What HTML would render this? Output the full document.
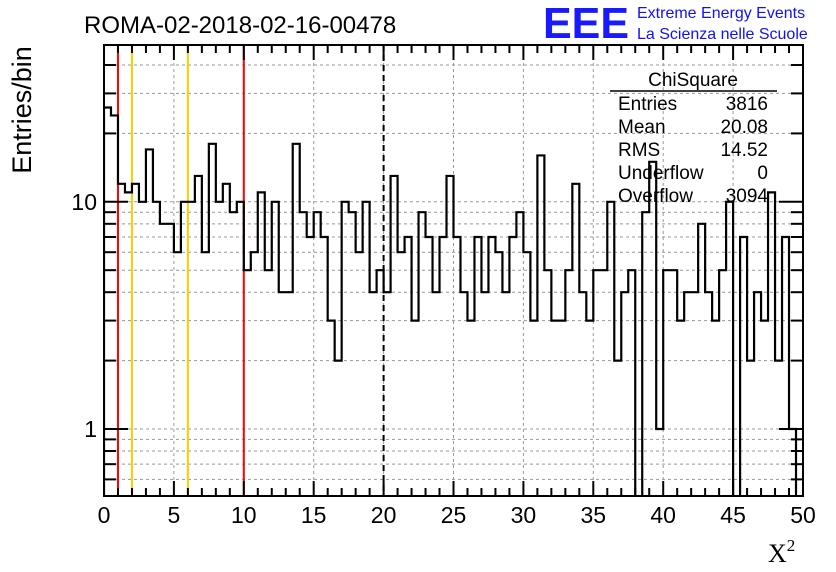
<!DOCTYPE html>
<html><head><meta charset="utf-8"><style>
body{margin:0;background:#fff;}
svg{display:block;font-family:"Liberation Sans",sans-serif;}
</style></head><body>
<svg id="chart" width="836" height="572" viewBox="0 0 836 572">
<defs><clipPath id="plotclip"><rect x="104" y="45" width="699" height="451"/></clipPath></defs>
<rect x="0" y="0" width="836" height="572" fill="#fff"/>
<g id="grid"></g>
<g id="marks"></g>
<g id="hist" clip-path="url(#plotclip)"></g>
<g id="axes"></g>
<text x="84" y="33" font-size="24">ROMA-02-2018-02-16-00478</text>
<text x="543" y="38" font-size="44" font-weight="bold" fill="#1a1aff" textLength="86" lengthAdjust="spacingAndGlyphs">EEE</text>
<text x="637" y="18" font-size="16" fill="#1010ff">Extreme Energy Events</text>
<text x="637" y="39" font-size="16" fill="#1010ff">La Scienza nelle Scuole</text>
<text transform="translate(31,110) rotate(-90)" font-size="27" text-anchor="middle">Entries/bin</text>
<text x="768" y="562" font-size="26" font-family="Liberation Serif,serif">X<tspan font-size="17" dy="-11">2</tspan></text>
<g id="stats" font-size="19">
<text x="693" y="86" text-anchor="middle">ChiSquare</text>
<line x1="610" y1="91" x2="777" y2="91" stroke="#000" stroke-width="1.5"/>
</g>
</svg>
<script>
const counts=[26,24,12,11,12,10,17,10,8,8,6,10,10,13,6,18,10,12,9,10,
5,6,11,5,10,4,4,18,9,7,9,7,3,2,10,9,6,10,4,5,
4,13,6,7,3,9,7,4,7,13,7,4,3,7,4,7,6,4,7,9,
6,3,16,5,3,3,5,12,4,3,5,5,10,2,4,5,0,9,15,1,
5,5,3,4,4,8,4,3,5,10,0,7,2,4,3,11,2,7,1,0];
const xTicks=[0,5,10,15,20,25,30,35,40,45,50];
const yMajor=[1,10];
const yMinor=[0.6,0.7,0.8,0.9,2,3,4,5,6,7,8,9,20,30,40];
const redLines=[1,10];
const orangeLines=[2,6];
const dashedLines=[20];
const statLabels=["Entries","Mean","RMS","Underflow","Overflow"];
const statValues=["3816","20.08","14.52","0","3094"];
const X0=104,X1=803,Y0=45,Y1=496,XMIN=0,XMAX=50,YMIN=0.507,YMAX=49;
const ns="http://www.w3.org/2000/svg";
function sx(v){return X0+(v-XMIN)/(XMAX-XMIN)*(X1-X0);}
function sy(v){if(v<=0)return Y1+20;return Y1-(Math.log10(v)-Math.log10(YMIN))/(Math.log10(YMAX)-Math.log10(YMIN))*(Y1-Y0);}
function mk(tag,attrs,parent){const e=document.createElementNS(ns,tag);for(const k in attrs)e.setAttribute(k,attrs[k]);parent.appendChild(e);return e;}
const grid=document.getElementById('grid'),axes=document.getElementById('axes'),hist=document.getElementById('hist'),marks=document.getElementById('marks'),stats=document.getElementById('stats');
xTicks.forEach(t=>{if(t>XMIN&&t<XMAX){const l=mk('line',{x1:sx(t),x2:sx(t),y1:Y0,y2:Y1,stroke:'#999','stroke-dasharray':'3,3','stroke-width':1},grid);

}});
yMajor.concat(yMinor).forEach(t=>{const l=mk('line',{x1:X0,x2:X1,y1:sy(t),y2:sy(t),stroke:'#999','stroke-dasharray':'3,3','stroke-width':1},grid);

});
function vline(v,color,dash,w,name){const l=mk('line',{x1:sx(v),x2:sx(v),y1:Y0,y2:Y1,stroke:color,'stroke-width':w},marks);if(dash)l.setAttribute('stroke-dasharray',dash);

}
redLines.forEach(v=>vline(v,'#f00',null,2,'red-threshold-line'));
orangeLines.forEach(v=>vline(v,'#fc0',null,2,'orange-threshold-line'));
dashedLines.forEach(v=>vline(v,'#000','6,4',2,'mean-dashed-line'));
const bw=(XMAX-XMIN)/counts.length;
let d='M'+sx(0)+','+(Y1+20);
counts.forEach((c,i)=>{const xa=sx(i*bw),xb=sx((i+1)*bw),y=sy(c);d+=' L'+xa+','+y+' L'+xb+','+y;});
d+=' L'+sx(XMAX)+','+(Y1+20);
const p=mk('path',{d:d,fill:'none',stroke:'#000','stroke-width':2.2},hist);


const fr=mk('rect',{x:X0,y:Y0,width:X1-X0,height:Y1-Y0,fill:'none',stroke:'#000','stroke-width':2},axes);


for(let t=XMIN;t<=XMAX;t+=1){const major=t%5===0;const len=major?15:8;
mk('line',{x1:sx(t),x2:sx(t),y1:Y1,y2:Y1-len,stroke:'#000','stroke-width':2},axes);
mk('line',{x1:sx(t),x2:sx(t),y1:Y0,y2:Y0+len,stroke:'#000','stroke-width':2},axes);}
xTicks.forEach(t=>{const tx=mk('text',{x:sx(t),y:Y1+27,'font-size':23,'text-anchor':'middle'},axes);tx.textContent=t;

});
yMajor.forEach(t=>{mk('line',{x1:X0,x2:X0+24,y1:sy(t),y2:sy(t),stroke:'#000','stroke-width':2},axes);
mk('line',{x1:X1,x2:X1-24,y1:sy(t),y2:sy(t),stroke:'#000','stroke-width':2},axes);
const tx=mk('text',{x:X0-7,y:sy(t)+8,'font-size':23,'text-anchor':'end'},axes);tx.textContent=t;

});
yMinor.forEach(t=>{mk('line',{x1:X0,x2:X0+12,y1:sy(t),y2:sy(t),stroke:'#000','stroke-width':2},axes);
mk('line',{x1:X1,x2:X1-12,y1:sy(t),y2:sy(t),stroke:'#000','stroke-width':2},axes);});
statLabels.forEach((s,i)=>{const y=110+i*23;
const a=mk('text',{x:618,y:y},stats);a.textContent=s;


const b=mk('text',{x:768,y:y,'text-anchor':'end'},stats);b.textContent=statValues[i];

});
</script>
</body></html>
